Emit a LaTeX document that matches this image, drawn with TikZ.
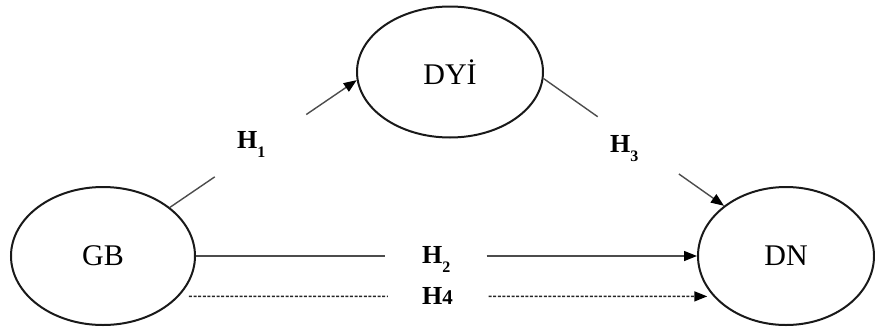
\documentclass[tikz,border=0pt]{standalone}
\usepackage{fontspec}
\setmainfont{Liberation Serif}
\usetikzlibrary{shapes.geometric,arrows.meta,calc}
\newcommand{\hsub}[1]{\raisebox{-9pt}{\fontsize{16}{17}\selectfont #1}}
\begin{document}
\begin{tikzpicture}[x=1pt,y=-1pt,
  constr/.style={draw=black!90,ellipse,line width=2pt,inner sep=0pt,
    font=\fontsize{30}{32}\selectfont},
  link/.style={draw=black!70,line width=1.4pt},
  tipped/.style={link,-{Triangle[length=13pt,width=10pt,fill=black,color=black]}},
  dashlink/.style={draw=black!85,line width=1.5pt,dash pattern=on 3pt off 1.6pt},
  hyp/.style={inner sep=0pt,anchor=base west,font=\fontsize{26}{28}\selectfont\bfseries}]
\useasboundingbox (0,0) rectangle (875,327);
\node[constr,minimum width=184pt,minimum height=138pt] (gb) at (103,256) {GB};
\node[constr,minimum width=186pt,minimum height=131pt] (dyi) at (450,72) {DYİ};
\node[constr,minimum width=176pt,minimum height=138pt] (dn) at (786,256) {DN};
% labels
\node[hyp] (h1) at (237,148) {H\hsub{1}};
\node[hyp] (h3) at (610,152) {H\hsub{3}};
\node[hyp] (h2) at (422,263) {H\hsub{2}};
\node[hyp] (h4) at (422,304) {H{\fontsize{21}{22}\selectfont 4}};
% H1
\draw[link] (gb.36) -- ($(gb.36)!0.24!(dyi.185)$);
\draw[tipped] ($(gb.36)!0.73!(dyi.185)$) -- (dyi.185);
% H3
\draw[link] (dyi.-4) -- ($(dyi.-4)!0.30!(dn.141.6)$);
\draw[tipped] ($(dyi.-4)!0.75!(dn.141.6)$) -- (dn.141.6);
% H2
\draw[link] (gb.east) -- ($(gb.east)!0.378!(dn.west)$);
\draw[tipped] ($(gb.east)!0.58!(dn.west)$) -- (dn.west);
% H4
\coordinate (h4a) at ([xshift=10pt]gb.-28);
\coordinate (h4b) at ([xshift=-5pt]h4a -| dn.208);
\draw[dashlink] (h4a) -- ($(h4a)!0.384!(h4b)$);
\draw[dashlink,-{Triangle[length=13pt,width=10pt,fill=black,color=black]}] ($(h4a)!0.578!(h4b)$) -- (h4b);
\end{tikzpicture}
\end{document}
